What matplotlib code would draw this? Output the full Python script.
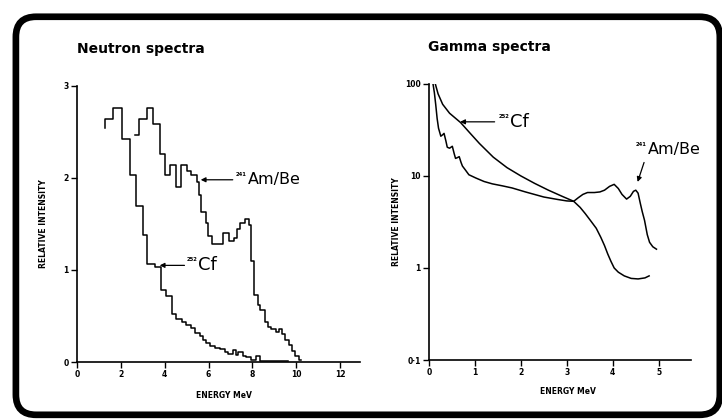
import numpy as np
import matplotlib
matplotlib.use("Agg")
import matplotlib.pyplot as plt
from matplotlib.patches import FancyBboxPatch
from matplotlib.ticker import NullLocator

# Neutron spectra (histograms): bin edges in MeV, relative intensity per bin
cf_n_start = 2.54
cf_n_edges = [1.30, 1.62, 2.03, 2.41, 2.67, 3.00, 3.21, 3.55, 3.85, 4.08,
              4.35, 4.53, 4.80, 4.98, 5.21, 5.39, 5.59, 5.74, 5.89, 6.05,
              6.27, 6.50, 6.73, 6.88, 7.10, 7.26, 7.36, 7.56, 7.71, 7.94,
              8.17, 8.36, 9.60]
cf_n_vals = [2.64, 2.76, 2.42, 2.03, 1.69, 1.38, 1.06, 1.03, 0.78, 0.72,
             0.52, 0.47, 0.43, 0.40, 0.37, 0.31, 0.28, 0.24, 0.21, 0.17,
             0.15, 0.14, 0.11, 0.09, 0.13, 0.08, 0.11, 0.07, 0.05, 0.02,
             0.07, 0.015]

ambe_n_start = 2.47
ambe_n_edges = [2.64, 2.84, 3.17, 3.47, 3.77, 4.00, 4.26, 4.53, 4.76, 5.00,
                5.21, 5.45, 5.55, 5.67, 5.86, 5.97, 6.17, 6.65, 6.95, 7.15,
                7.30, 7.45, 7.64, 7.82, 7.91, 8.09, 8.24, 8.35, 8.55, 8.70,
                8.85, 9.05, 9.20, 9.35, 9.50, 9.65, 9.80, 9.95, 10.10, 10.20]
ambe_n_vals = [2.47, 2.64, 2.76, 2.59, 2.26, 2.03, 2.14, 1.90, 2.14, 2.08,
               2.03, 1.96, 1.81, 1.63, 1.51, 1.37, 1.28, 1.40, 1.31, 1.35,
               1.45, 1.51, 1.55, 1.49, 1.10, 0.73, 0.62, 0.57, 0.43, 0.38,
               0.36, 0.33, 0.36, 0.30, 0.24, 0.19, 0.12, 0.06, 0.02]

# Gamma spectra (log scale)
cf_g_e = [0.14, 0.20, 0.30, 0.45, 0.69, 0.90, 1.10, 1.40, 1.70, 2.00,
          2.30, 2.60, 2.90, 3.15, 3.29, 3.40, 3.51, 3.64, 3.74, 3.82,
          3.89, 3.96, 4.03, 4.12, 4.25, 4.40, 4.55, 4.70, 4.79]
cf_g_i = [100, 78, 60, 48, 38, 29, 22.5, 16, 12.3, 10,
          8.3, 7.0, 6.0, 5.3, 4.55, 3.9, 3.3, 2.7, 2.15, 1.75,
          1.42, 1.18, 1.0, 0.9, 0.82, 0.77, 0.76, 0.78, 0.82]

ambe_g_e = [0.09, 0.12, 0.15, 0.18, 0.21, 0.26, 0.30, 0.33, 0.37, 0.40,
            0.45, 0.51, 0.55, 0.58, 0.62, 0.66, 0.70, 0.73, 0.80, 0.87,
            1.02, 1.20, 1.38, 1.60, 1.81, 2.10, 2.50, 2.80, 3.00, 3.15,
            3.25, 3.35, 3.45, 3.60, 3.72, 3.82, 3.93, 4.03, 4.12, 4.20,
            4.30, 4.38, 4.45, 4.50, 4.55, 4.60, 4.64, 4.69, 4.75, 4.80,
            4.87, 4.95]
ambe_g_i = [100, 80, 59, 42, 33, 27, 28, 29, 24, 20.5,
            20, 21, 17.5, 15.5, 15.8, 16.2, 14, 12.8, 11.5, 10.3,
            9.5, 8.7, 8.2, 7.8, 7.4, 6.7, 5.9, 5.55, 5.35, 5.3,
            5.8, 6.3, 6.6, 6.6, 6.7, 7.0, 7.7, 8.1, 7.3, 6.3,
            5.6, 6.0, 6.8, 7.0, 6.5, 5.0, 4.1, 3.3, 2.3, 1.9,
            1.7, 1.6]

n_xticks = [0, 2, 4, 6, 8, 10, 12]
n_yticks = [0, 1, 2, 3]
g_xticks = [0, 1, 2, 3, 4, 5]
g_yticks = [0.1, 1, 10, 100]
g_ytick_labels = ['0·1', '1', '10', '100']

plt.rcParams['font.family'] = 'DejaVu Sans'
lw = 1.1


def stair_xy(start, edges, vals):
    x = [edges[0]] + list(edges)
    y = [start] + list(vals) + [vals[-1]]
    return x, y


def style_axes(ax):
    for s in ['top', 'right']:
        ax.spines[s].set_visible(False)
    for s in ['left', 'bottom']:
        ax.spines[s].set_linewidth(1.2)
    ax.tick_params(direction='out', length=4, width=1.0, pad=2, labelsize=5.5)
    for lab in ax.get_xticklabels() + ax.get_yticklabels():
        lab.set_fontweight('bold')


def iso_label(ax, x, y, mass, name, size):
    # small bold mass number, then the element name
    ax.annotate(mass, xy=(x, y), xytext=(0, size * 0.3),
                textcoords='offset points', fontsize=3.8, fontweight='bold',
                ha='left', va='center', annotation_clip=False)
    ax.annotate(name, xy=(x, y), xytext=(8.5, 0),
                textcoords='offset points', fontsize=size,
                ha='left', va='center', annotation_clip=False)


fig = plt.figure(figsize=(7.22, 4.19), dpi=100)

# rounded frame
frame = FancyBboxPatch((0.022, 0.010), 0.975, 0.950,
                       boxstyle="round,pad=0,rounding_size=0.028",
                       mutation_aspect=722 / 419,
                       transform=fig.transFigure, fill=False,
                       edgecolor='black', linewidth=4.8)
fig.patches.append(frame)

arrow = dict(arrowstyle='-|>', color='black', lw=0.9, mutation_scale=7,
             shrinkA=0, shrinkB=0)

# ---------------- Neutron spectra ----------------
ax1 = fig.add_axes([0.1066, 0.136, 0.392, 0.659])
x, y = stair_xy(cf_n_start, cf_n_edges, cf_n_vals)
ax1.step(x, y, where='post', color='black', lw=lw)
x, y = stair_xy(ambe_n_start, ambe_n_edges, ambe_n_vals)
ax1.step(x, y, where='post', color='black', lw=lw)
ax1.set_xlim(0, 12.9)
ax1.set_ylim(0, 3)
ax1.set_xticks(n_xticks)
ax1.set_yticks(n_yticks)
style_axes(ax1)
ax1.set_xlabel('ENERGY MeV', fontsize=5.5, fontweight='bold')
ax1.set_ylabel('RELATIVE INTENSITY', fontsize=5.5, fontweight='bold')
ax1.xaxis.set_label_coords(0.52, -0.105)
ax1.yaxis.set_label_coords(-0.102, 0.5)

ax1.annotate('', xy=(5.64, 1.98), xytext=(7.1, 1.98), arrowprops=arrow)
iso_label(ax1, 7.25, 1.98, '241', 'Am/Be', 11.5)
ax1.annotate('', xy=(3.77, 1.05), xytext=(4.9, 1.05), arrowprops=arrow)
iso_label(ax1, 4.98, 1.05, '252', 'Cf', 13)

# ---------------- Gamma spectra ----------------
ax2 = fig.add_axes([0.594, 0.1408, 0.363, 0.659])
ax2.plot(cf_g_e, cf_g_i, color='black', lw=lw)
ax2.plot(ambe_g_e, ambe_g_i, color='black', lw=lw)
ax2.set_yscale('log')
ax2.set_xlim(0, 5.7)
ax2.set_ylim(0.1, 100)
ax2.set_xticks(g_xticks)
ax2.set_yticks(g_yticks)
ax2.set_yticklabels(g_ytick_labels)
ax2.yaxis.set_minor_locator(NullLocator())
style_axes(ax2)
ax2.set_xlabel('ENERGY MeV', fontsize=5.5, fontweight='bold')
ax2.set_ylabel('RELATIVE INTENSITY', fontsize=5.5, fontweight='bold')
ax2.xaxis.set_label_coords(0.53, -0.098)
ax2.yaxis.set_label_coords(-0.108, 0.5)

ax2.annotate('', xy=(0.68, 38.7), xytext=(1.43, 38.7), arrowprops=arrow)
iso_label(ax2, 1.51, 38.7, '252', 'Cf', 13)
ax2.annotate('', xy=(4.54, 8.6), xytext=(4.68, 14.0), arrowprops=arrow)
iso_label(ax2, 4.5, 19.5, '241', 'Am/Be', 11.5)

# titles
fig.text(77 / 722, 1 - 53 / 419, 'Neutron spectra', fontsize=10,
         fontweight='bold', ha='left', va='baseline')
fig.text(428 / 722, 1 - 51 / 419, 'Gamma spectra', fontsize=10,
         fontweight='bold', ha='left', va='baseline')

fig.savefig('out.png', dpi=100)
